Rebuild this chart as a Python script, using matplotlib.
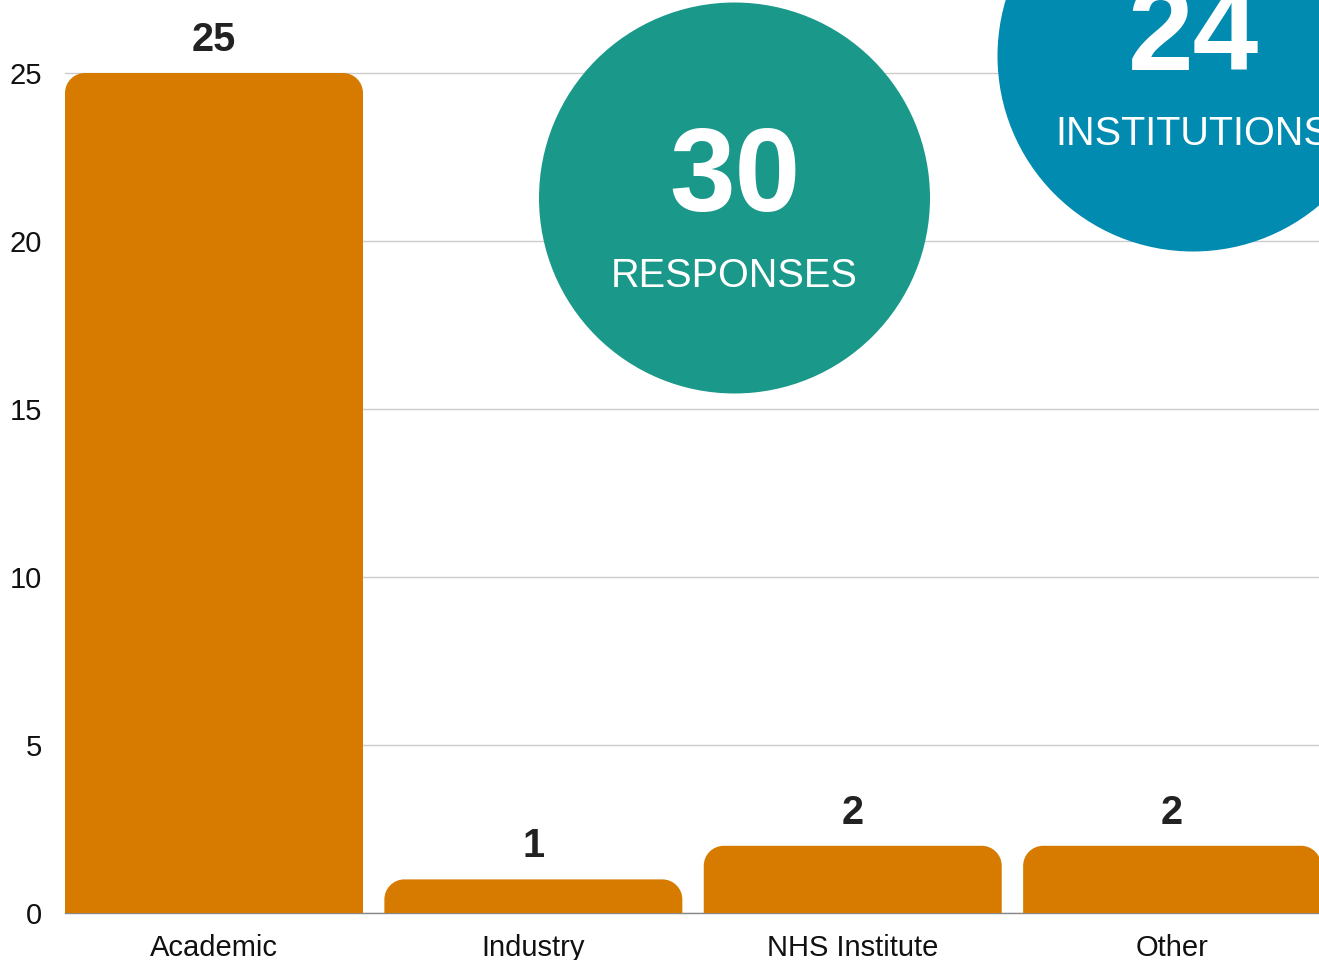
import matplotlib
matplotlib.use("Agg")
import matplotlib.pyplot as plt
from matplotlib.patches import PathPatch, Circle
from matplotlib.path import Path

categories = ["Academic", "Industry", "NHS Institute", "Other"]
counts = [25, 1, 2, 2]
yticks = [0, 5, 10, 15, 20, 25]
badges = [("30", "RESPONSES"), ("24", "INSTITUTIONS")]

ORANGE = "#D67A00"
TEAL = "#1A9889"
BLUE = "#028BB0"
TXT = "#222222"

plt.rcParams["font.family"] = ["Liberation Sans", "DejaVu Sans"]

W, H = 1319, 960
fig = plt.figure(figsize=(W / 100, H / 100), dpi=100)
ax = fig.add_axes([65 / W, 47 / H, (1320 - 65) / W, (27 * 33.6) / H])

x = list(range(len(categories)))
bw = 0.933
bars = ax.bar(x, counts, width=bw, color="none", edgecolor="none")
ax.set_xlim(-0.4665, 3.463)
ax.set_ylim(0, 27)

rx = 20 / 319.33
ry = 20 / 33.6
k = 0.5523


def top_rounded(x0, w, h):
    x1 = x0 + w
    r_y = min(ry, h)
    verts = [
        (x0, 0), (x0, h - r_y),
        (x0, h - r_y + k * r_y), (x0 + rx - k * rx, h), (x0 + rx, h),
        (x1 - rx, h),
        (x1 - rx + k * rx, h), (x1, h - r_y + k * r_y), (x1, h - r_y),
        (x1, 0), (x0, 0),
    ]
    codes = [Path.MOVETO, Path.LINETO,
             Path.CURVE4, Path.CURVE4, Path.CURVE4,
             Path.LINETO,
             Path.CURVE4, Path.CURVE4, Path.CURVE4,
             Path.LINETO, Path.CLOSEPOLY]
    return Path(verts, codes)


for b, v in zip(bars, counts):
    x0, w, h = b.get_x(), b.get_width(), b.get_height()
    ax.add_patch(PathPatch(top_rounded(x0, w, h), facecolor=ORANGE,
                           edgecolor="none", zorder=3, clip_on=False))
    ax.annotate(str(v), (x0 + w / 2, h), xytext=(0, 16), textcoords="offset points",
                ha="center", va="baseline", fontsize=28.5, fontweight="bold",
                color=TXT, zorder=4, annotation_clip=False)

ax.set_yticks(yticks)
ax.set_xticks(x)
ax.set_xticklabels(categories)
ax.tick_params(axis="both", length=0, labelsize=21, colors="#111111")
ax.tick_params(axis="y", pad=16.5)
ax.tick_params(axis="x", pad=15)
ax.grid(axis="y", color="#cccccc", linewidth=1, zorder=0)
ax.set_axisbelow(True)
for s in ["top", "right", "left"]:
    ax.spines[s].set_visible(False)
ax.spines["bottom"].set_color("#888888")
ax.spines["bottom"].set_linewidth(1)

# Badge circles (figure pixel coords)
centers = [(734.5, 198), (1193, 56)]
colors = [TEAL, BLUE]
for (cx, cy), col, (num, lab) in zip(centers, colors, badges):
    xi, yi = cx / 100, (H - cy) / 100
    c = Circle((xi, yi), 1.955, transform=fig.dpi_scale_trans, facecolor=col,
               edgecolor="none", zorder=10)
    fig.patches.append(c)
    fig.text(cx / W, (H - (cy - 17)) / H, num, ha="center", va="center",
             fontsize=85, fontweight="bold", color="white", zorder=11)
    fig.text(cx / W, (H - (cy + 78)) / H, lab, ha="center", va="center",
             fontsize=28.5, color="white", zorder=11)

fig.savefig("out.png", dpi=100)
